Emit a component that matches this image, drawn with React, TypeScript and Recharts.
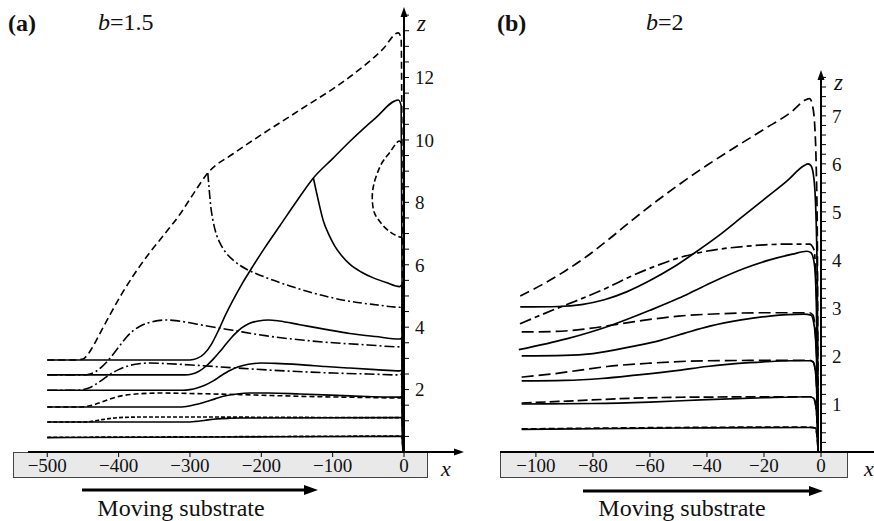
import React from "react";
import { LineChart, Line, XAxis, YAxis } from "recharts";

const SERIF = "'Liberation Serif', 'DejaVu Serif', serif";

// ---- panel (a), b = 1.5  ([x, z] pairs) ----
const aTopDash = [
  [-500, 2.95], [-460, 2.95], [-450, 2.98], [-444, 3.1], [-436, 3.38], [-425, 3.85],
  [-412, 4.4], [-396, 5.05], [-380, 5.63], [-356, 6.4], [-335, 7.0], [-314, 7.62],
  [-295, 8.28], [-275, 8.94], [-240, 9.55], [-211, 10.0], [-146, 10.96], [-76, 12.02],
  [-30, 12.9], [-8, 13.43], [-4, 13.25], [-1.5, 0],
];
const aBranchDash = [
  [-275, 8.94], [-273, 8.4], [-271, 7.9], [-268, 7.45], [-264, 7.05], [-258, 6.7],
  [-250, 6.4], [-238, 6.12], [-220, 5.85], [-200, 5.65], [-183, 5.5], [-160, 5.32],
  [-136, 5.15], [-106, 4.97], [-76, 4.83], [-40, 4.72], [-6, 4.64], [-3, 4.68], [-1.5, 0],
];
const aLoopDash = [
  [-4, 9.9], [-9, 9.94], [-20, 9.6], [-30, 9.3], [-38, 8.9], [-43, 8.5], [-44.5, 8.1],
  [-42, 7.7], [-36, 7.45], [-27, 7.2], [-16, 7.0], [-6, 6.89], [-3, 6.9],
];
const aTopSolid = [
  [-500, 2.95], [-300, 2.95], [-290, 3.0], [-280, 3.15], [-270, 3.45], [-260, 3.9],
  [-250, 4.4], [-240, 4.85], [-228, 5.35], [-216, 5.8], [-195, 6.55], [-174, 7.25],
  [-150, 8.05], [-127, 8.78], [-100, 9.4], [-76, 9.95], [-40, 10.7], [-8, 11.28],
  [-4, 11.1], [-1.5, 0],
];
const aBranchSolid = [
  [-127, 8.78], [-120, 8.05], [-113, 7.4], [-105, 6.95], [-97, 6.6], [-87, 6.28],
  [-76, 6.02], [-60, 5.77], [-43, 5.58], [-25, 5.43], [-6, 5.3], [-3, 5.35], [-1.5, 0],
];
const aDash25 = [
  [-500, 2.47], [-450, 2.47], [-440, 2.5], [-432, 2.58], [-424, 2.72], [-416, 2.9],
  [-407, 3.15], [-398, 3.42], [-389, 3.68], [-380, 3.88], [-370, 4.03], [-358, 4.14],
  [-345, 4.21], [-335, 4.23], [-320, 4.21], [-300, 4.14], [-286, 4.08], [-240, 3.9],
  [-192, 3.72], [-140, 3.58], [-99, 3.5], [-50, 3.43], [-6, 3.37], [-3, 3.4], [-1.5, 0],
];
const aSolid25 = [
  [-500, 2.47], [-307, 2.47], [-297, 2.5], [-288, 2.58], [-278, 2.74], [-268, 2.96],
  [-258, 3.22], [-248, 3.5], [-238, 3.76], [-228, 3.97], [-217, 4.12], [-204, 4.2],
  [-190, 4.23], [-175, 4.2], [-146, 4.08], [-110, 3.93], [-76, 3.8], [-40, 3.7],
  [-6, 3.62], [-3, 3.65], [-1.5, 0],
];
const aDash20 = [
  [-500, 1.98], [-458, 1.98], [-448, 2.01], [-440, 2.07], [-430, 2.2], [-420, 2.36],
  [-410, 2.52], [-400, 2.64], [-388, 2.75], [-374, 2.82], [-356, 2.85], [-330, 2.83],
  [-286, 2.77], [-240, 2.7], [-192, 2.63], [-140, 2.57], [-99, 2.53], [-50, 2.5],
  [-6, 2.47], [-3, 2.5], [-1.5, 0],
];
const aSolid20 = [
  [-500, 1.98], [-310, 1.98], [-300, 2.0], [-290, 2.05], [-280, 2.13], [-268, 2.27],
  [-256, 2.45], [-244, 2.61], [-232, 2.73], [-218, 2.81], [-200, 2.85], [-180, 2.84],
  [-146, 2.8], [-110, 2.74], [-76, 2.69], [-40, 2.64], [-6, 2.6], [-3, 2.62], [-1.5, 0],
];
const aDash15 = [
  [-500, 1.44], [-455, 1.44], [-445, 1.46], [-435, 1.51], [-425, 1.59], [-412, 1.7],
  [-398, 1.79], [-380, 1.85], [-360, 1.88], [-342, 1.89], [-290, 1.87], [-230, 1.84],
  [-170, 1.8], [-118, 1.77], [-60, 1.75], [-6, 1.73], [-3, 1.75], [-1.5, 0],
];
const aSolid15 = [
  [-500, 1.44], [-318, 1.44], [-305, 1.46], [-292, 1.52], [-278, 1.61], [-264, 1.71],
  [-250, 1.8], [-234, 1.86], [-216, 1.89], [-190, 1.89], [-146, 1.86], [-76, 1.8],
  [-6, 1.76], [-3, 1.78], [-1.5, 0],
];
const aDash10 = [
  [-500, 0.96], [-450, 0.96], [-438, 0.98], [-425, 1.03], [-410, 1.08], [-392, 1.11],
  [-370, 1.12], [-286, 1.12], [-150, 1.11], [-6, 1.1], [-3, 1.1], [-1.5, 0],
];
const aSolid10 = [
  [-500, 0.96], [-305, 0.96], [-292, 0.98], [-278, 1.02], [-262, 1.06], [-245, 1.08],
  [-228, 1.09], [-6, 1.1], [-3, 1.1], [-1.5, 0],
];
const aDash05 = [[-500, 0.47], [-250, 0.49], [-6, 0.51], [-3, 0.51], [-1.5, 0]];
const aSolid05 = [[-500, 0.46], [-250, 0.48], [-6, 0.5], [-3, 0.5], [-1.5, 0]];

// ---- panel (b), b = 2 ----
const bTopDash = [
  [-105.5, 3.25], [-98, 3.48], [-90, 3.76], [-82, 4.08], [-74, 4.45], [-66, 4.84],
  [-58, 5.21], [-50, 5.56], [-40, 5.97], [-30, 6.35], [-20, 6.72], [-10, 7.1],
  [-5.5, 7.33], [-4, 7.36], [-3, 7.22], [-2.2, 6.8], [-1.7, 6.0], [-1.3, 4.5], [-1.0, 0],
];
const bTopSolid = [
  [-105.5, 3.02], [-92, 3.03], [-84, 3.07], [-76, 3.17], [-68, 3.34], [-60, 3.57],
  [-52, 3.84], [-44, 4.16], [-36, 4.5], [-28, 4.88], [-20, 5.26], [-12, 5.64],
  [-6, 5.96], [-4.5, 6.0], [-3.5, 5.96], [-2.5, 5.7], [-1.8, 5.0], [-1.3, 3.5], [-1.0, 0],
];
const bMidDash = [
  [-105.6, 2.67], [-93, 2.98], [-87, 3.12], [-75, 3.42], [-67, 3.65], [-59, 3.85],
  [-50, 4.04], [-42, 4.16], [-27, 4.28], [-10, 4.33], [-4, 4.33], [-2.5, 4.22],
  [-1.7, 3.5], [-1.2, 2.0], [-1.0, 0],
];
const bFlatDash = [
  [-105, 2.5], [-93, 2.51], [-83, 2.56], [-66, 2.71], [-50, 2.83], [-35, 2.88],
  [-20, 2.9], [-4, 2.9], [-2.8, 2.85], [-2.0, 2.5], [-1.3, 1.5], [-1.0, 0],
];
const bMidSolid = [
  [-106, 2.13], [-89, 2.36], [-74, 2.63], [-60, 2.95], [-50, 3.2], [-45, 3.34],
  [-38, 3.54], [-27, 3.82], [-18, 4.0], [-10, 4.12], [-5, 4.18], [-3.5, 4.15],
  [-2.3, 3.9], [-1.6, 3.0], [-1.0, 0],
];
const bLowSolid = [
  [-105, 2.0], [-90, 2.01], [-80, 2.05], [-66, 2.2], [-56, 2.33], [-48, 2.47],
  [-39, 2.62], [-28, 2.75], [-18, 2.83], [-6, 2.87], [-3.5, 2.85], [-2.3, 2.6],
  [-1.5, 1.8], [-1.0, 0],
];
const bDash19 = [
  [-105, 1.56], [-95, 1.62], [-85, 1.7], [-75, 1.78], [-60, 1.85], [-40, 1.9],
  [-4, 1.91], [-2.8, 1.88], [-2.0, 1.7], [-1.3, 0.9], [-1.0, 0],
];
const bSolid19 = [
  [-105, 1.48], [-90, 1.49], [-77, 1.53], [-65, 1.6], [-50, 1.7], [-40, 1.78],
  [-25, 1.86], [-10, 1.9], [-4, 1.9], [-2.8, 1.87], [-2.0, 1.7], [-1.3, 0.9], [-1.0, 0],
];
const bDash11 = [
  [-105, 1.02], [-89, 1.06], [-66, 1.12], [-49, 1.14], [-4, 1.15], [-2.6, 1.12],
  [-1.8, 0.95], [-1.2, 0.4], [-1.0, 0],
];
const bSolid11 = [
  [-105, 1.0], [-80, 1.01], [-60, 1.04], [-40, 1.09], [-20, 1.13], [-4, 1.15],
  [-2.6, 1.12], [-1.8, 0.95], [-1.2, 0.4], [-1.0, 0],
];
const bDash05 = [[-105, 0.48], [-50, 0.51], [-4, 0.52], [-2, 0.5], [-1.2, 0.2], [-1.0, 0]];
const bSolid05 = [[-105, 0.47], [-50, 0.5], [-4, 0.51], [-2, 0.5], [-1.2, 0.2], [-1.0, 0]];

// ---- axes ----
const xTicksA = [-500, -400, -300, -200, -100, 0];
const zLabelsA = [2, 4, 6, 8, 10, 12];
const xTicksB = [-100, -80, -60, -40, -20, 0];
const zLabelsB = [1, 2, 3, 4, 5, 6, 7];

// minor ticks: every 0.5 on (a), every 0.2 on (b)
const zTicksA = Array.from({ length: 28 }, (_, i) => (i + 1) * 0.5);
const zTicksB = Array.from({ length: 39 }, (_, i) => Math.round((i + 1) * 2) / 10);

type Curve = { name: string; pts: number[][]; dash?: string; curve?: "monotoneX" | "natural" };

const curvesA: Curve[] = [
  { name: "aTopDash", pts: aTopDash, dash: "7 4" },
  { name: "aBranchDash", pts: aBranchDash, dash: "9 3 2 3" },
  { name: "aLoopDash", pts: aLoopDash, dash: "6 3", curve: "natural" },
  { name: "aTopSolid", pts: aTopSolid },
  { name: "aBranchSolid", pts: aBranchSolid },
  { name: "aDash25", pts: aDash25, dash: "10 3 2 3" },
  { name: "aSolid25", pts: aSolid25 },
  { name: "aDash20", pts: aDash20, dash: "10 3 2 3" },
  { name: "aSolid20", pts: aSolid20 },
  { name: "aDash15", pts: aDash15, dash: "5 3" },
  { name: "aSolid15", pts: aSolid15 },
  { name: "aDash10", pts: aDash10, dash: "4 2" },
  { name: "aSolid10", pts: aSolid10 },
  { name: "aDash05", pts: aDash05, dash: "4 2" },
  { name: "aSolid05", pts: aSolid05 },
];

const curvesB: Curve[] = [
  { name: "bTopDash", pts: bTopDash, dash: "10 5" },
  { name: "bTopSolid", pts: bTopSolid },
  { name: "bMidDash", pts: bMidDash, dash: "12 4 5 4" },
  { name: "bFlatDash", pts: bFlatDash, dash: "12 5" },
  { name: "bMidSolid", pts: bMidSolid },
  { name: "bLowSolid", pts: bLowSolid },
  { name: "bDash19", pts: bDash19, dash: "12 5" },
  { name: "bSolid19", pts: bSolid19 },
  { name: "bDash11", pts: bDash11, dash: "10 4" },
  { name: "bSolid11", pts: bSolid11 },
  { name: "bDash05", pts: bDash05, dash: "6 3" },
  { name: "bSolid05", pts: bSolid05 },
];

const toRows = (pts: number[][]) => pts.map(([x, z]) => ({ x, z }));
const minus = (v: number) => String(v).replace("-", "\u2212");
const tickFont = { fontFamily: SERIF, fontSize: 19, fill: "#111" };

type PanelProps = {
  left: number;
  width: number;
  margin: { top: number; right: number; bottom: number; left: number };
  xDomain: [number, number];
  zDomain: [number, number];
  xTicks: number[];
  zTicks: number[];
  zLabels: number[];
  curves: Curve[];
  lineWidth: number;
};

function Panel(p: PanelProps) {
  return (
    <div style={{ position: "absolute", left: p.left, top: 0 }}>
      <LineChart width={p.width} height={521} margin={p.margin}>
        <XAxis
          type="number"
          dataKey="x"
          domain={p.xDomain}
          allowDataOverflow
          ticks={p.xTicks}
          interval={0}
          tickFormatter={minus}
          tickSize={5}
          tickMargin={2}
          height={30}
          axisLine={{ stroke: "#000", strokeWidth: 2 }}
          tickLine={{ stroke: "#000", strokeWidth: 1 }}
          tick={tickFont}
        />
        <YAxis
          orientation="right"
          type="number"
          dataKey="z"
          domain={p.zDomain}
          allowDataOverflow
          ticks={p.zTicks}
          interval={0}
          tickFormatter={(v: number) => (p.zLabels.includes(v) ? String(v) : "")}
          tickSize={5}
          tickMargin={6}
          width={40}
          axisLine={{ stroke: "#000", strokeWidth: 2 }}
          tickLine={{ stroke: "#000", strokeWidth: 1 }}
          tick={tickFont}
        />
        {p.curves.map((c) => (
          <Line
            key={c.name}
            name={c.name}
            data={toRows(c.pts)}
            dataKey="z"
            type={c.curve ?? "monotoneX"}
            stroke="#000"
            strokeWidth={p.lineWidth}
            strokeDasharray={c.dash}
            dot={false}
            activeDot={false}
            isAnimationActive={false}
          />
        ))}
      </LineChart>
    </div>
  );
}

export default function App() {
  return (
    <div style={{ position: "absolute", left: 0, top: 0, width: 874, height: 521, background: "#fff", overflow: "hidden" }}>
      {/* substrate boxes behind the axes */}
      <svg width={874} height={521} style={{ position: "absolute", left: 0, top: 0 }}>
        <rect x={13.5} y={452.5} width={414} height={25} fill="#e9e9e9" stroke="#444" strokeWidth={1} />
        <rect x={500.5} y={452.5} width={347} height={25} fill="#e9e9e9" stroke="#444" strokeWidth={1} />
      </svg>

      <Panel
        left={0}
        width={480}
        margin={{ top: 12, right: 36, bottom: 39, left: 28 }}
        xDomain={[-527, 0]}
        zDomain={[0, 14.1]}
        xTicks={xTicksA}
        zTicks={zTicksA}
        zLabels={zLabelsA}
        curves={curvesA}
        lineWidth={1.6}
      />
      <Panel
        left={440}
        width={434}
        margin={{ top: 75, right: 13, bottom: 39, left: 60 }}
        xDomain={[-112.6, 0]}
        zDomain={[0, 7.85]}
        xTicks={xTicksB}
        zTicks={zTicksB}
        zLabels={zLabelsB}
        curves={curvesB}
        lineWidth={1.7}
      />

      {/* annotations */}
      <svg width={874} height={521} style={{ position: "absolute", left: 0, top: 0, pointerEvents: "none" }}>
        <g fill="#000">
          <polygon points="404,7 400.5,17 407.5,17" />
          <polygon points="821,70 817.5,80 824.5,80" />
          <polygon points="464,452 454,448.5 454,455.5" />
          <line x1={404} y1={452} x2={456} y2={452} stroke="#000" strokeWidth={2} />
          <line x1={821} y1={452} x2={874} y2={452} stroke="#000" strokeWidth={2} />
          <line x1={82} y1={490} x2={306} y2={490} stroke="#000" strokeWidth={3} />
          <polygon points="318,490 304,485 304,495" />
          <line x1={583} y1={491} x2={811} y2={491} stroke="#000" strokeWidth={3} />
          <polygon points="823,491 809,486 809,496" />
        </g>
        <g fontFamily={SERIF} fill="#111">
          <text x={8} y={31} fontSize={24} fontWeight="bold">(a)</text>
          <text x={98} y={30} fontSize={24}><tspan fontStyle="italic">b</tspan>=1.5</text>
          <text x={497} y={31} fontSize={24} fontWeight="bold">(b)</text>
          <text x={646} y={30} fontSize={24}><tspan fontStyle="italic">b</tspan>=2</text>
          <text x={417} y={31} fontSize={23} fontStyle="italic">z</text>
          <text x={834} y={90} fontSize={23} fontStyle="italic">z</text>
          <text x={441} y={476} fontSize={22} fontStyle="italic">x</text>
          <text x={864} y={476} fontSize={22} fontStyle="italic">x</text>
          <text x={181} y={516} fontSize={24} textAnchor="middle">Moving substrate</text>
          <text x={682} y={516} fontSize={24} textAnchor="middle">Moving substrate</text>
        </g>
      </svg>
    </div>
  );
}
